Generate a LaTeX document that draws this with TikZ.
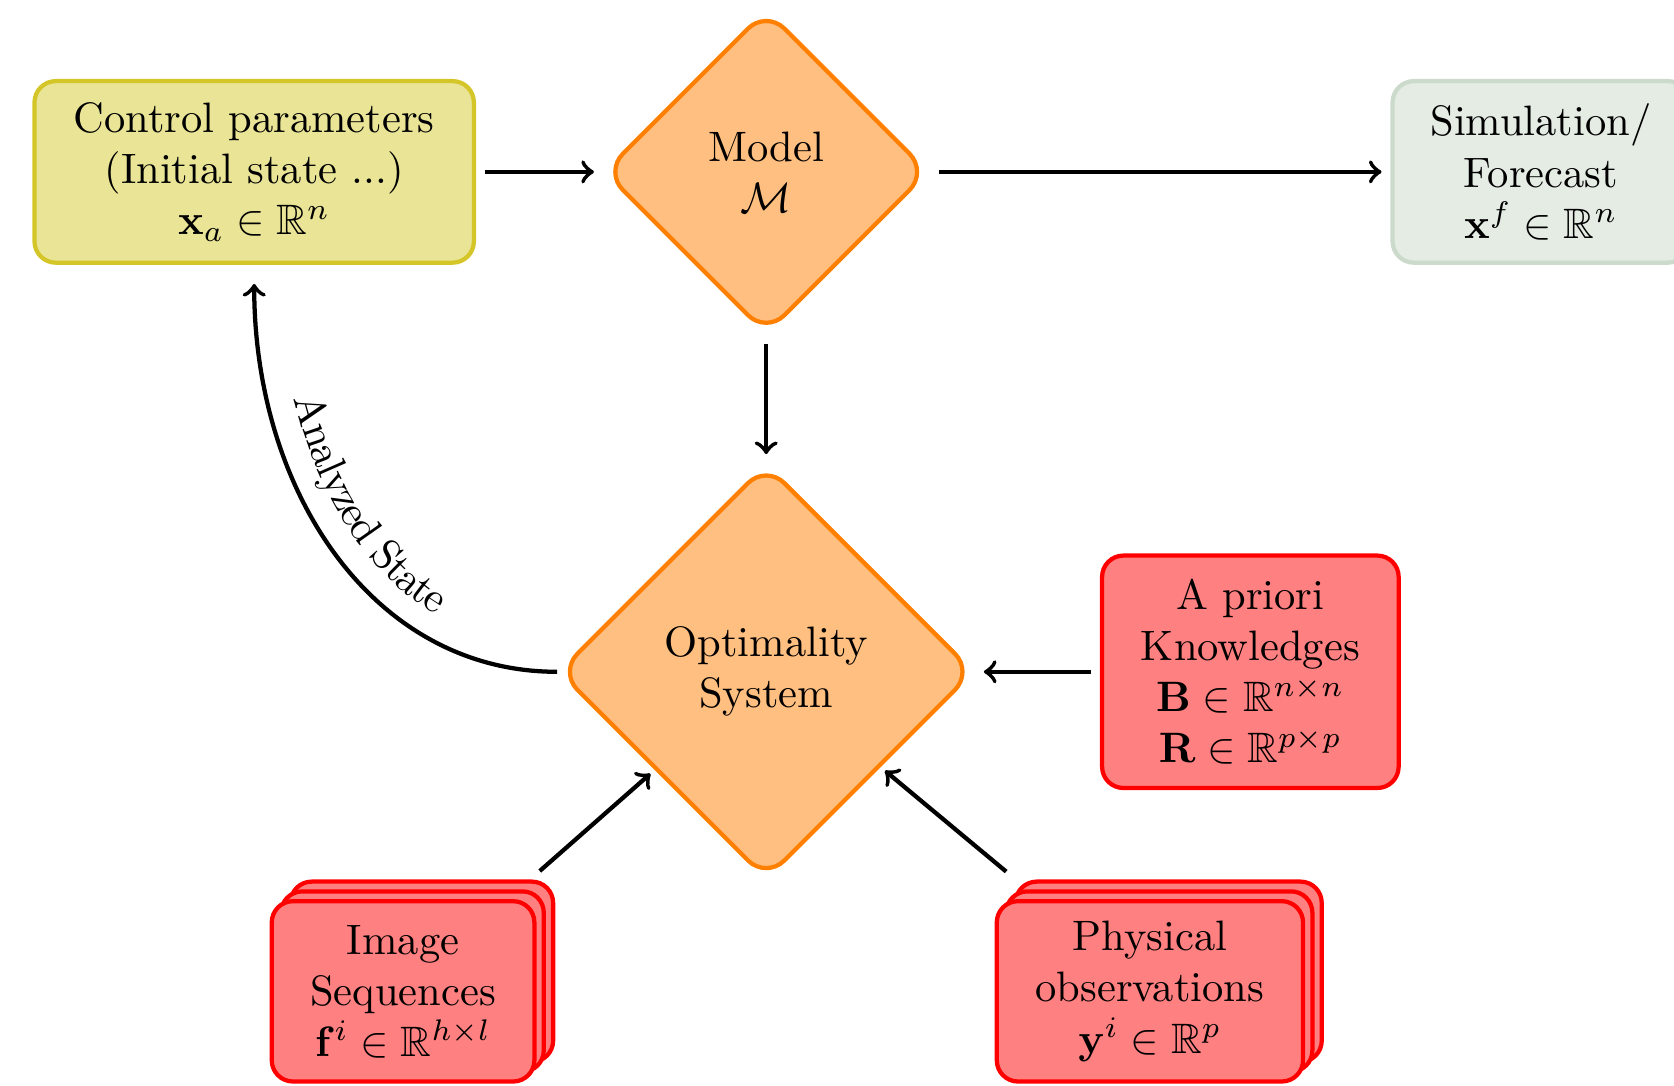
\documentclass[tikz,border=0pt]{standalone}
\usepackage{amsmath,amssymb}
\usetikzlibrary{shapes.geometric,shadows,decorations.text}

\definecolor{ctrlfill}{RGB}{233,228,150}
\definecolor{ctrldraw}{RGB}{212,198,40}
\definecolor{simfill}{RGB}{228,236,228}
\definecolor{simdraw}{RGB}{204,218,204}

\tikzset{
  box/.style={rectangle, rounded corners=5pt, line width=1pt, align=center, outer sep=2.6pt, inner sep=2pt},
  diam/.style={diamond, aspect=1, rounded corners=6pt, line width=1pt, align=center,
    draw=orange, fill=orange!50, outer sep=1.8pt},
  obsbox/.style={box, draw=red, fill=red!50},
  stack/.style={obsbox,
    copy shadow={shadow xshift=4.4pt, shadow yshift=4.6pt, draw=red, fill=red!50, line width=1pt},
    copy shadow={shadow xshift=2.2pt, shadow yshift=2.3pt, draw=red, fill=red!50, line width=1pt}},
  arr/.style={line width=1pt}
}

\begin{document}
\begin{tikzpicture}

    \useasboundingbox (0,0) rectangle (13.83,-8.97);

    % Model chain
    \node[box, draw=ctrldraw, fill=ctrlfill, minimum width=3.63cm, minimum height=1.5cm] (ctrl) at (2.10,-1.42)
        {Control parameters\\(Initial state ...)\\$\mathbf{x}_a \in \mathbb{R}^n$};
    \node[diam, minimum size=2.72cm] (model) at (6.33,-1.42) {Model\\$\mathcal{M}$};
    \node[box, draw=simdraw, fill=simfill, minimum width=2.45cm, minimum height=1.5cm] (sim) at (12.73,-1.42)
        {Simulation/\\Forecast\\$\mathbf{x}^f \in \mathbb{R}^n$};

    % Optimality system
    \node[diam, minimum size=3.47cm] (opt) at (6.33,-5.55) {Optimality\\System};

    % Observations
    \node[obsbox, minimum width=2.45cm, minimum height=1.92cm] (prior) at (10.33,-5.55)
        {A priori\\Knowledges\\$\mathbf{B} \in \mathbb{R}^{n\times n}$\\$\mathbf{R} \in \mathbb{R}^{p\times p}$};
    \node[stack, minimum width=2.17cm, minimum height=1.49cm] (img) at (3.33,-8.19)
        {Image\\Sequences\\$\mathbf{f}^i \in \mathbb{R}^{h\times l}$};
    \node[stack, minimum width=2.53cm, minimum height=1.49cm] (phys) at (9.50,-8.19)
        {Physical\\observations\\$\mathbf{y}^i \in \mathbb{R}^p$};

    % Arrows
    \draw[arr, ->] (ctrl) -- (model);
    \draw[arr, ->] (model) -- (sim);
    \draw[arr, ->] (model) -- (opt);
    \draw[arr, ->] (prior) -- (opt);
    \draw[arr, ->, shorten <=6.8pt] (img) -- (opt);
    \draw[arr, ->, shorten <=6.8pt] (phys) -- (opt);

    % Feedback
    \draw[arr, <-, shorten <=2.4pt, shorten >=-2pt,
        postaction={decorate, decoration={text along path, text={Analyzed State}, text align=center, raise=6pt}}]
        (ctrl) to[out=-90, in=180, out distance=1.8cm, in distance=1.45cm] (opt);

\end{tikzpicture}
\end{document}
